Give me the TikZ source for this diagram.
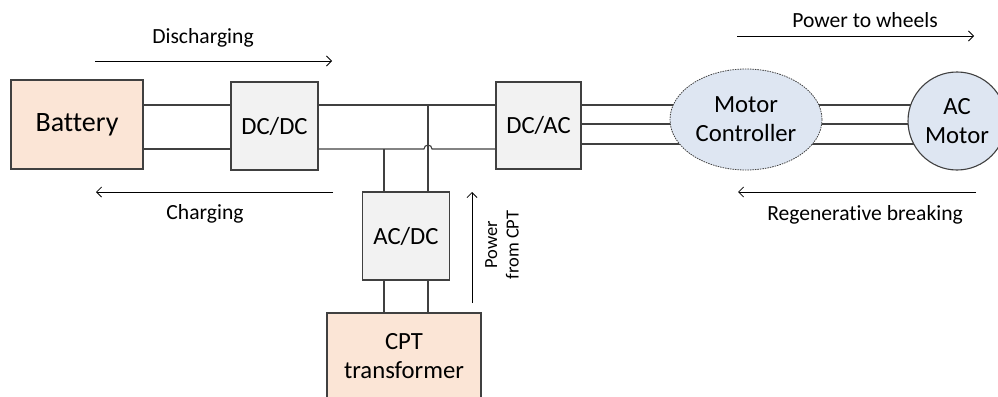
\documentclass[tikz,border=0pt]{standalone}
\usepackage{fontspec}
\setmainfont{Carlito}[Ligatures=NoCommon]
\usepackage{tikz}
\usetikzlibrary{arrows.meta,backgrounds,shapes.geometric}
\definecolor{peach}{RGB}{251,229,214}
\definecolor{boxgray}{RGB}{242,242,242}
\definecolor{motorblue}{RGB}{222,230,242}

\begin{document}
\begin{tikzpicture}[x=1pt,y=-1pt,
  block/.style={draw=black!75,line width=1.1pt,fill=boxgray,inner sep=0pt,
    minimum width=87pt,minimum height=88pt,align=center,
    font=\fontsize{24.7}{28.8}\selectfont},
  source/.style={block,fill=peach},
  motor/.style={block,fill=motorblue},
  wire/.style={draw=black!75,line width=1.1pt},
  flow/.style={line width=0.8pt,-{Straight Barb[length=5pt,width=10pt]}},
  lbl/.style={inner sep=0pt,font=\fontsize{21.6}{25}\selectfont}]
  \useasboundingbox (0,0) rectangle (998,396);
  \def\ytop{105}
  \def\ybot{149}
  % blocks
  \node[source,minimum width=132pt,minimum height=89pt,
    font=\fontsize{28}{32}\selectfont] (bat) at (77,124.5) {Battery};
  \node[block] (dcdc) at (274.5,126) {DC/DC};
  \node[block,minimum width=85pt,minimum height=87pt] (dcac) at (538.5,125.5) {DC/AC};
  \node[block] (acdc) at (406,236) {AC/DC};
  \node[source,minimum width=154pt,minimum height=86pt] (cpt) at (404,356) {CPT\\transformer};
  \node[motor,ellipse,minimum width=152pt,minimum height=101pt,line width=0.8pt,
    dash pattern=on 1.5pt off 1pt] (mc) at (746,119.5) {Motor\\Controller};
  \node[motor,circle,minimum size=98pt] (acm) at (957,121) {AC\\Motor};
  \coordinate (tapL) at ([xshift=-22pt]acdc.north);
  \coordinate (tapR) at ([xshift=22pt]acdc.north);
  \coordinate (hop) at (tapR |- 0,\ybot);
  % dc bus
  \draw[wire] (bat.east |- 0,\ytop) -- (dcdc.west |- 0,\ytop);
  \draw[wire] (bat.east |- 0,\ybot) -- (dcdc.west |- 0,\ybot);
  \draw[wire] (dcdc.east |- 0,\ytop) -- (dcac.west |- 0,\ytop);
  \draw[wire] (dcdc.east |- 0,\ybot) -- ([xshift=-4pt]hop)
    arc[start angle=180,end angle=0,radius=4pt] -- (dcac.west |- hop);
  \draw[wire] (tapL |- 0,\ybot) -- (tapL);
  \draw[wire] (tapR |- 0,\ytop) -- (tapR);
  \draw[wire] (tapL |- acdc.south) -- (tapL |- cpt.north);
  \draw[wire] (tapR |- acdc.south) -- (tapR |- cpt.north);
  % three phases
  \begin{pgfonlayer}{background}
    \foreach \y in {105,124,144}{
      \draw[wire] (dcac.east |- 0,\y) -- (mc.center |- 0,\y);
      \draw[wire] (mc.center |- 0,\y) -- (acm.center |- 0,\y);}
  \end{pgfonlayer}
  % power flow
  \draw[flow] (95,61) -- (332,61);
  \node[lbl] (dischg) at (203,38) {Discharging};
  \draw[flow] (333,192) -- (96,192);
  \node[lbl] (chg) at (205,214) {Charging};
  \draw[flow] (737,36) -- (974,36);
  \node[lbl] (wheels) at (865,20) {Power to wheels};
  \draw[flow] (976,192) -- (738,192);
  \node[lbl] (regen) at (865,215) {Regenerative breaking};
  \draw[flow] (472,303) -- (472,192);
  \node[lbl,rotate=90,align=center,font=\fontsize{18.5}{21.6}\selectfont]
    (fromcpt) at (502,245) {Power\\from CPT};
\end{tikzpicture}
\end{document}
